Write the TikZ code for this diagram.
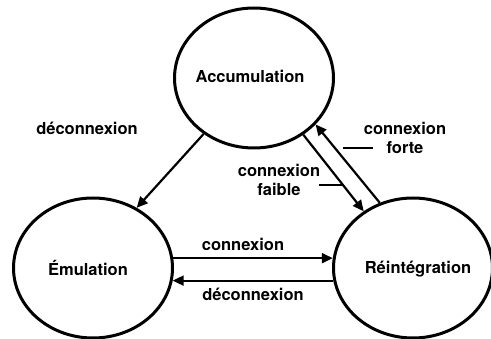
\documentclass[tikz,border=0pt]{standalone}
\usepackage{fontspec}
\setmainfont{TeX Gyre Heros}
\usetikzlibrary{shapes.geometric,arrows.meta}

\begin{document}
\begin{tikzpicture}[x=1pt,y=-1pt,
        state/.style={draw,ellipse,line width=3pt,minimum width=159pt,minimum height=140pt,inner sep=0pt},
        lbl/.style={font=\bfseries\fontsize{16.5}{19.5}\selectfont,align=center},
        arr/.style={line width=2.2pt,-{Triangle[length=11pt,width=10pt]}},
        lead/.style={line width=2pt}]
    \useasboundingbox (0,0) rectangle (491,339);

        \node[state] (acc) at (254,78) {};
        \node[lbl] at (250,76) {Accumulation};
        \node[state] (emu) at (93,268) {};
        \node[lbl] at (88,268) {Émulation};
        \node[state] (rei) at (413,268) {};
        \node[lbl] at (418,269) {Réintégration};

        \draw[arr] (acc.-132) -- (emu.54);
        \draw[arr] (acc.-49) -- (rei.131);
        \draw[arr] (rei.117) -- (acc.-37);
        \draw[arr] (emu.7) -- (rei.173);
        \draw[arr] (rei.-171) -- (emu.-9);

        \node[lbl] (l1) at (87,128) {déconnexion};
        \node[lbl] (l2) at (243,244) {connexion};
        \node[lbl] (l3) at (253,294) {déconnexion};
        \node[lbl] (l4) at (279,180) {connexion\\faible};
        \node[lbl] (l5) at (405,138) {connexion\\forte};

        \coordinate (f1) at (319,185);
        \coordinate (f2) at (342,185);
        \coordinate (s1) at (343,148);
        \coordinate (s2) at (373,148);
        \draw[lead] (f1) -- (f2);
        \draw[lead] (s1) -- (s2);
    \end{tikzpicture}
\end{document}
